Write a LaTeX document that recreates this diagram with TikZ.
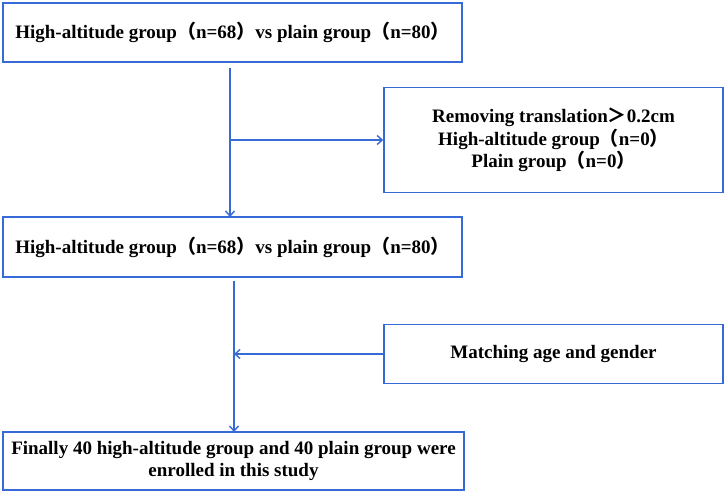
\documentclass[tikz,border=0pt]{standalone}
\usepackage{fontspec}
\setmainfont{Liberation Serif}
\newfontfamily\cjk{Noto Sans CJK SC}
\usetikzlibrary{arrows.meta}
\definecolor{boxblue}{RGB}{55,105,215}
\newcommand{\lp}{{\cjk\char"FF08}}
\newcommand{\rp}{{\cjk\char"FF09}}
\newcommand{\gtw}{{\cjk\char"FF1E}}
\begin{document}
\begin{tikzpicture}[x=1pt,y=-1pt,
  flowbox/.style={draw=boxblue,line width=1.6pt,inner sep=0pt,font=\bfseries\fontsize{19}{22.5}\selectfont,align=center},
  conn/.style={draw=boxblue,line width=1.5pt},
  arr/.style={conn,-{Straight Barb[length=5pt,width=9pt,line width=1.4pt]}}]
\useasboundingbox (0,0) rectangle (726,494);
\node[flowbox,minimum width=459pt,minimum height=59pt] (b1) at (232.5,32.5) {High-altitude group\lp n=68\rp vs plain group\lp n=80\rp};
\node[flowbox,minimum width=339pt,minimum height=105pt] (b2) at (553.5,140) {Removing translation\gtw 0.2cm\\High-altitude group\lp n=0\rp\\Plain group\lp n=0\rp};
\node[flowbox,minimum width=459pt,minimum height=60pt] (b3) at (232.5,247) {High-altitude group\lp n=68\rp vs plain group\lp n=80\rp};
\node[flowbox,minimum width=339pt,minimum height=59pt] (b4) at (553.5,354) {Matching age and gender};
\node[flowbox,minimum width=461pt,minimum height=58pt] (b5) at (233.5,461) {Finally 40 high-altitude group and 40 plain group were\\enrolled in this study};
\coordinate (s1) at (230,68);
\coordinate (m1) at (230,140);
\coordinate (e1) at (230,217);
\coordinate (s2) at (234,281);
\coordinate (m2) at (234,354);
\coordinate (e2) at (234,432);
\draw[arr] (s1) -- (e1);
\draw[arr] (m1) -- (b2.west);
\draw[arr] (s2) -- (e2);
\draw[arr] (b4.west) -- (m2);
\end{tikzpicture}
\end{document}
